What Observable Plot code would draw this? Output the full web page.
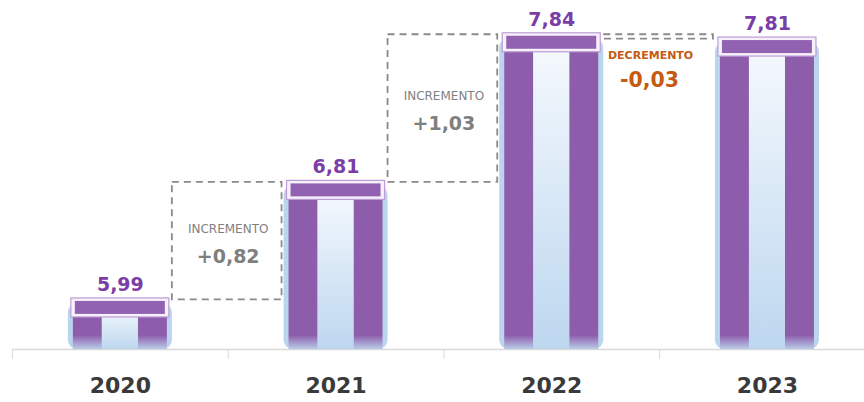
<!DOCTYPE html>
<html><head><meta charset="utf-8">
<script src="https://cdn.jsdelivr.net/npm/d3@7"></script>
<script src="https://cdn.jsdelivr.net/npm/@observablehq/plot@0.6"></script>
<style>body{margin:0;background:#fff;} svg{display:block;}</style>
</head><body><div id="chart"></div>
<script>
const years = [2020, 2021, 2022, 2023];
const values = [5.99, 6.81, 7.84, 7.81];
const valueLabels = ["5,99", "6,81", "7,84", "7,81"];
const changeKinds = ["INCREMENTO", "INCREMENTO", "DECREMENTO"];
const changeLabels = ["+0,82", "+1,03", "-0,03"];
const baseline = 5.7;
const boundaries = [2019.5, 2020.5, 2021.5, 2022.5];

const bars = years.map((year, i) => ({year, value: values[i], label: valueLabels[i]}));
const changes = changeLabels.map((label, i) => ({
  from: years[i], to: years[i + 1], a: values[i], b: values[i + 1],
  xm: (years[i] + years[i + 1]) / 2, ym: (values[i] + values[i + 1]) / 2,
  kind: changeKinds[i], label, up: values[i + 1] >= values[i]
}));
const ups = changes.filter(d => d.up);
const downs = changes.filter(d => !d.up);

const font = "DejaVu Sans, Verdana, sans-serif";

const chart = Plot.plot({
  width: 864, height: 402,
  marginLeft: 12, marginRight: 0, marginTop: 5, marginBottom: 53,
  style: {fontFamily: font, background: "#fff"},
  x: {type: "linear", domain: [2019.5, 2023.45], axis: null},
  y: {domain: [baseline, 8.1], axis: null},
  marks: [
    Plot.ruleY([baseline], {stroke: "#D9D9D9", strokeWidth: 1.5}),
    Plot.axisX({ticks: boundaries, tickSize: 10, tickFormat: () => "", stroke: "#D9D9D9"}),
    // glow body
    Plot.rect(bars, {x1: "year", x2: "year", y1: d => baseline, y2: "value",
      insetLeft: -52, insetRight: -52, insetTop: -4, fill: "#BBD5EE", rx: 9, ariaLabel: "glow"}),
    // stripes
    Plot.rect(bars, {x1: "year", x2: "year", y1: d => baseline, y2: "value",
      insetLeft: -47, insetRight: 18, fill: "url(#stripeGrad)", ariaLabel: "stripe"}),
    Plot.rect(bars, {x1: "year", x2: "year", y1: d => baseline, y2: "value",
      insetLeft: 18, insetRight: -47, fill: "url(#stripeGrad)", ariaLabel: "stripe"}),
    Plot.rect(bars, {x1: "year", x2: "year", y1: d => baseline, y2: "value",
      insetLeft: -18, insetRight: -18, fill: "url(#centerGrad)", ariaLabel: "center"}),
    // caps
    Plot.rect(bars, {x1: "year", x2: "year", y1: "value", y2: "value",
      insetLeft: -49, insetRight: -49, insetTop: -9.5, insetBottom: -9.5,
      fill: "#F7F1FB", stroke: "#BE9CD6", strokeWidth: 1.2}),
    Plot.rect(bars, {x1: "year", x2: "year", y1: "value", y2: "value",
      insetLeft: -45, insetRight: -45, insetTop: -6.5, insetBottom: -6.5,
      fill: "#9262B2"}),
    // value labels
    Plot.text(bars, {x: "year", y: "value", text: "label", dy: -23,
      fill: "#7A3EA6", fontSize: 19, fontWeight: "bold"}),
    // change boxes
    Plot.rect(changes, {x1: "from", x2: "to", y1: "a", y2: "b",
      insetLeft: 52, insetRight: 54, insetTop: -8, insetBottom: 8,
      fill: "none", stroke: "#8A8A8A", strokeWidth: 1.8, strokeDasharray: "7,5"}),
    Plot.text(ups, {x: "xm", y: "ym", text: "kind", dy: -20,
      fill: "#7F7F7F", fontSize: 12}),
    Plot.text(ups, {x: "xm", y: "ym", text: "label", dy: 7.5,
      fill: "#7F7F7F", fontSize: 19, fontWeight: "bold"}),
    Plot.text(downs, {x: "xm", y: "ym", text: "kind", dy: 11, dx: -9,
      fill: "#C55A11", fontSize: 11, fontWeight: "bold"}),
    Plot.text(downs, {x: "xm", y: "ym", text: "label", dy: 35.5, dx: -10,
      fill: "#C55A11", fontSize: 20.5, fontWeight: "bold"}),
    // year labels
    Plot.text(bars, {x: "year", y: d => baseline, text: d => String(d.year), dy: 36,
      fill: "#3A3A3A", fontSize: 22, fontWeight: "bold"})
  ]
});

const yBase = chart.scale("y").apply(baseline);
const svg = d3.select(chart);
const defs = svg.insert("defs", ":first-child");
const sg = defs.append("linearGradient").attr("id", "stripeGrad")
  .attr("gradientUnits", "userSpaceOnUse")
  .attr("x1", 0).attr("y1", yBase - 14).attr("x2", 0).attr("y2", yBase);
sg.append("stop").attr("offset", "0%").attr("stop-color", "#8D5CAB");
sg.append("stop").attr("offset", "100%").attr("stop-color", "#B9CCEA");
const cg = defs.append("linearGradient").attr("id", "centerGrad")
  .attr("x1", 0).attr("y1", 0).attr("x2", 0).attr("y2", 1);
cg.append("stop").attr("offset", "0%").attr("stop-color", "#F5F9FD");
cg.append("stop").attr("offset", "100%").attr("stop-color", "#BDD7EF");
const f = defs.append("filter").attr("id", "blur").attr("x", "-20%").attr("y", "-20%").attr("width", "140%").attr("height", "140%");
f.append("feGaussianBlur").attr("stdDeviation", 2);
const f2 = defs.append("filter").attr("id", "blur1").attr("x", "-20%").attr("y", "-20%").attr("width", "140%").attr("height", "140%");
f2.append("feGaussianBlur").attr("stdDeviation", 0.8);
svg.selectAll('g[aria-label="glow"]').attr("filter", "url(#blur)");
svg.selectAll('g[aria-label="stripe"]').attr("filter", "url(#blur1)");

document.getElementById("chart").appendChild(chart);
</script>
</body></html>
